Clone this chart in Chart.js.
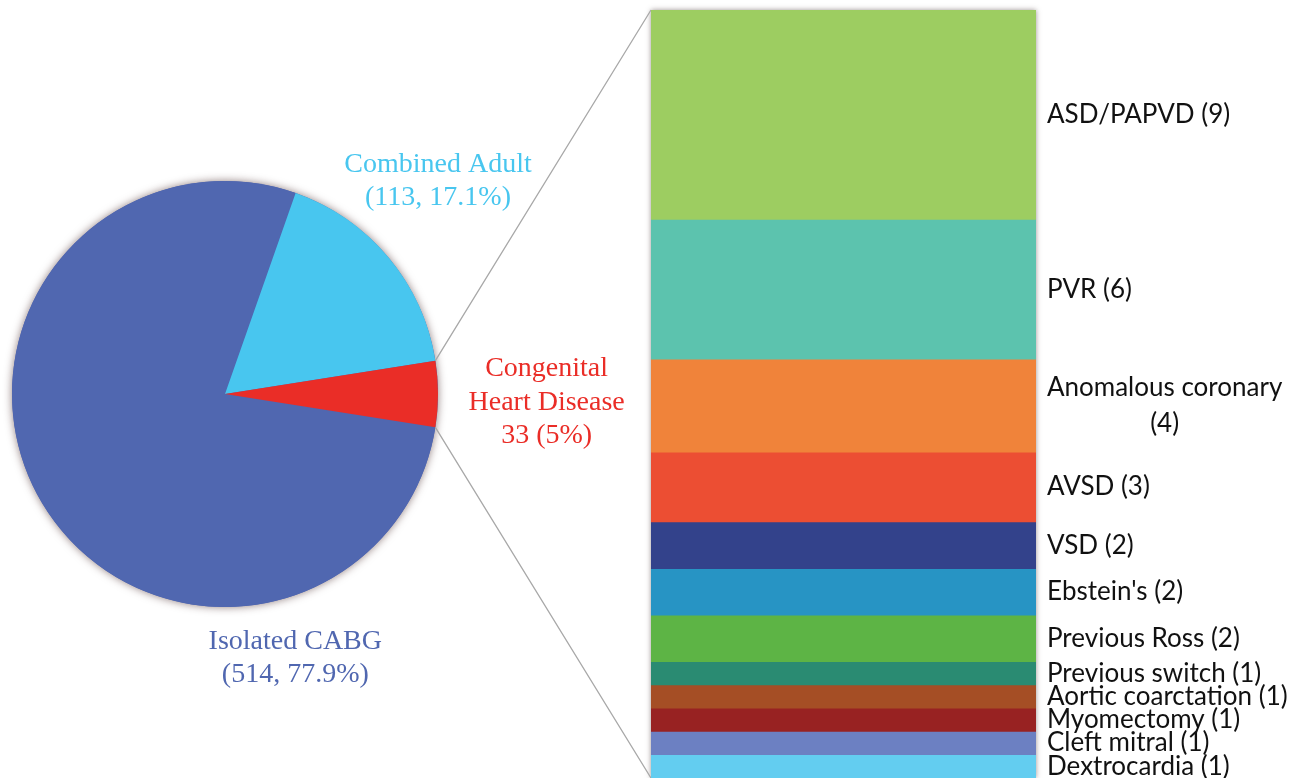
<!DOCTYPE html>
<html>
<head>
<meta charset="utf-8">
<script src="https://cdn.jsdelivr.net/npm/chart.js@4/dist/chart.umd.min.js"></script>
<style>
  html, body { margin: 0; padding: 0; background: #fff; }
  #wrap { position: relative; width: 1299px; height: 778px; overflow: hidden; }
  #wrap canvas { position: absolute; left: 0; top: 0; }
</style>
</head>
<body>
<div id="wrap">
  <canvas id="pieChart" width="1299" height="778"></canvas>
  <canvas id="barChart" width="1299" height="778"></canvas>
</div>
<script>
// pie: case groups
var pieLabels = ['Isolated CABG', 'Combined Adult', 'Congenital Heart Disease'];
var pieText = [
  ['Isolated CABG', '(514, 77.9%)'],
  ['Combined Adult', '(113, 17.1%)'],
  ['Congenital', 'Heart Disease', '33 (5%)']
];
var pieValues = [514, 113, 33];
var pieColors = ['#5067b0', '#48c6ef', '#ea2d27'];

// bar: congenital breakdown, top to bottom
var barLabels = [
  'ASD/PAPVD (9)', 'PVR (6)', ['Anomalous coronary', '(4)'], 'AVSD (3)', 'VSD (2)',
  "Ebstein's (2)", 'Previous Ross (2)', 'Previous switch (1)', 'Aortic coarctation (1)',
  'Myomectomy (1)', 'Cleft mitral (1)', 'Dextrocardia (1)'
];
var barValues = [9, 6, 4, 3, 2, 2, 2, 1, 1, 1, 1, 1];
var barColors = [
  '#9dcd61', '#5cc3ae', '#f0833a', '#ec4e33', '#33428b', '#2794c4',
  '#5db445', '#2a8b72', '#a54e25', '#982222', '#6c80c2', '#63cdf0'
];

// where each pie label sits, as multiples of the radius from the pie centre
var pieLabelPos = [[0.33, 1.24], [1.0, -1.0], [1.51, 0.04]];

var pieShadow = {
  id: 'pieShadow',
  beforeDatasetsDraw: function (chart) {
    var arc = chart.getDatasetMeta(0).data[0];
    var ctx = chart.ctx;
    ctx.save();
    ctx.shadowColor = 'rgba(70,40,40,0.6)';
    ctx.shadowBlur = 8;
    ctx.fillStyle = pieColors[0];
    ctx.beginPath();
    ctx.arc(arc.x, arc.y, arc.outerRadius, 0, Math.PI * 2);
    ctx.fill();
    ctx.restore();
  },
  afterDatasetsDraw: function (chart) {
    var arc = chart.getDatasetMeta(0).data[0];
    var r = arc.outerRadius;
    var ctx = chart.ctx;
    ctx.save();
    ctx.font = '28px "Liberation Serif", "Times New Roman", serif';
    ctx.textAlign = 'center';
    ctx.textBaseline = 'middle';
    pieText.forEach(function (lines, i) {
      var cx = arc.x + pieLabelPos[i][0] * r;
      var cy = arc.y + pieLabelPos[i][1] * r;
      var lh = 33.5;
      ctx.fillStyle = pieColors[i];
      lines.forEach(function (t, j) {
        ctx.fillText(t, cx, cy + (j - (lines.length - 1) / 2) * lh);
      });
    });
    ctx.restore();
  }
};

var pieChart = new Chart(document.getElementById('pieChart'), {
  type: 'pie',
  data: {
    labels: pieLabels,
    datasets: [{
      data: pieValues,
      backgroundColor: pieColors,
      borderWidth: 0
    }]
  },
  options: {
    responsive: false,
    animation: false,
    rotation: 99,
    layout: { padding: { left: 12, top: 181, right: 861, bottom: 171 } },
    plugins: {
      legend: { display: false },
      tooltip: { enabled: false }
    }
  },
  plugins: [pieShadow]
});

var barExtras = {
  id: 'barExtras',
  beforeDatasetsDraw: function (chart) {
    var a = chart.chartArea;
    var ctx = chart.ctx;
    ctx.save();
    ctx.shadowColor = 'rgba(60,40,40,0.5)';
    ctx.shadowBlur = 5;
    ctx.fillStyle = '#ccc';
    ctx.fillRect(a.left, a.top, a.right - a.left, a.bottom - a.top);
    ctx.restore();

    // connector lines from the congenital slice to the bar
    var arc = pieChart.getDatasetMeta(0).data[2];
    var r = arc.outerRadius;
    ctx.save();
    ctx.strokeStyle = '#a8a8a8';
    ctx.lineWidth = 1.3;
    ctx.beginPath();
    ctx.moveTo(arc.x + r * Math.cos(arc.startAngle), arc.y + r * Math.sin(arc.startAngle));
    ctx.lineTo(a.left, a.top);
    ctx.moveTo(arc.x + r * Math.cos(arc.endAngle), arc.y + r * Math.sin(arc.endAngle));
    ctx.lineTo(a.left, a.bottom);
    ctx.stroke();
    ctx.restore();
  },
  afterDatasetsDraw: function (chart) {
    var a = chart.chartArea;
    var ctx = chart.ctx;
    ctx.save();
    ctx.font = '26px Lato, "Open Sans", sans-serif';
    ctx.fillStyle = '#111';
    ctx.textBaseline = 'middle';
    var x = a.right + 11;
    chart.data.datasets.forEach(function (ds, i) {
      var bar = chart.getDatasetMeta(i).data[0];
      var cy = (bar.y + bar.base) / 2;
      var lab = barLabels[i];
      if (Array.isArray(lab)) {
        var w = ctx.measureText(lab[0]).width;
        ctx.textAlign = 'center';
        var lh = 36;
        lab.forEach(function (t, j) {
          ctx.fillText(t, x + w / 2, cy + (j - (lab.length - 1) / 2) * lh);
        });
      } else {
        ctx.textAlign = 'left';
        ctx.fillText(lab, x, cy);
      }
    });
    ctx.restore();
  }
};

var barChart = new Chart(document.getElementById('barChart'), {
  type: 'bar',
  data: {
    labels: ['Congenital'],
    datasets: barValues.map(function (v, i) {
      return {
        label: Array.isArray(barLabels[i]) ? barLabels[i].join(' ') : barLabels[i],
        data: [v],
        backgroundColor: barColors[i],
        borderWidth: 0,
        barPercentage: 1,
        categoryPercentage: 1
      };
    })
  },
  options: {
    responsive: false,
    animation: false,
    layout: { padding: { left: 651, right: 263, top: 10, bottom: 0 } },
    scales: {
      x: { stacked: true, display: false },
      y: { stacked: true, display: false, reverse: true, min: 0, max: 33 }
    },
    plugins: {
      legend: { display: false },
      tooltip: { enabled: false }
    }
  },
  plugins: [barExtras]
});
</script>
</body>
</html>
